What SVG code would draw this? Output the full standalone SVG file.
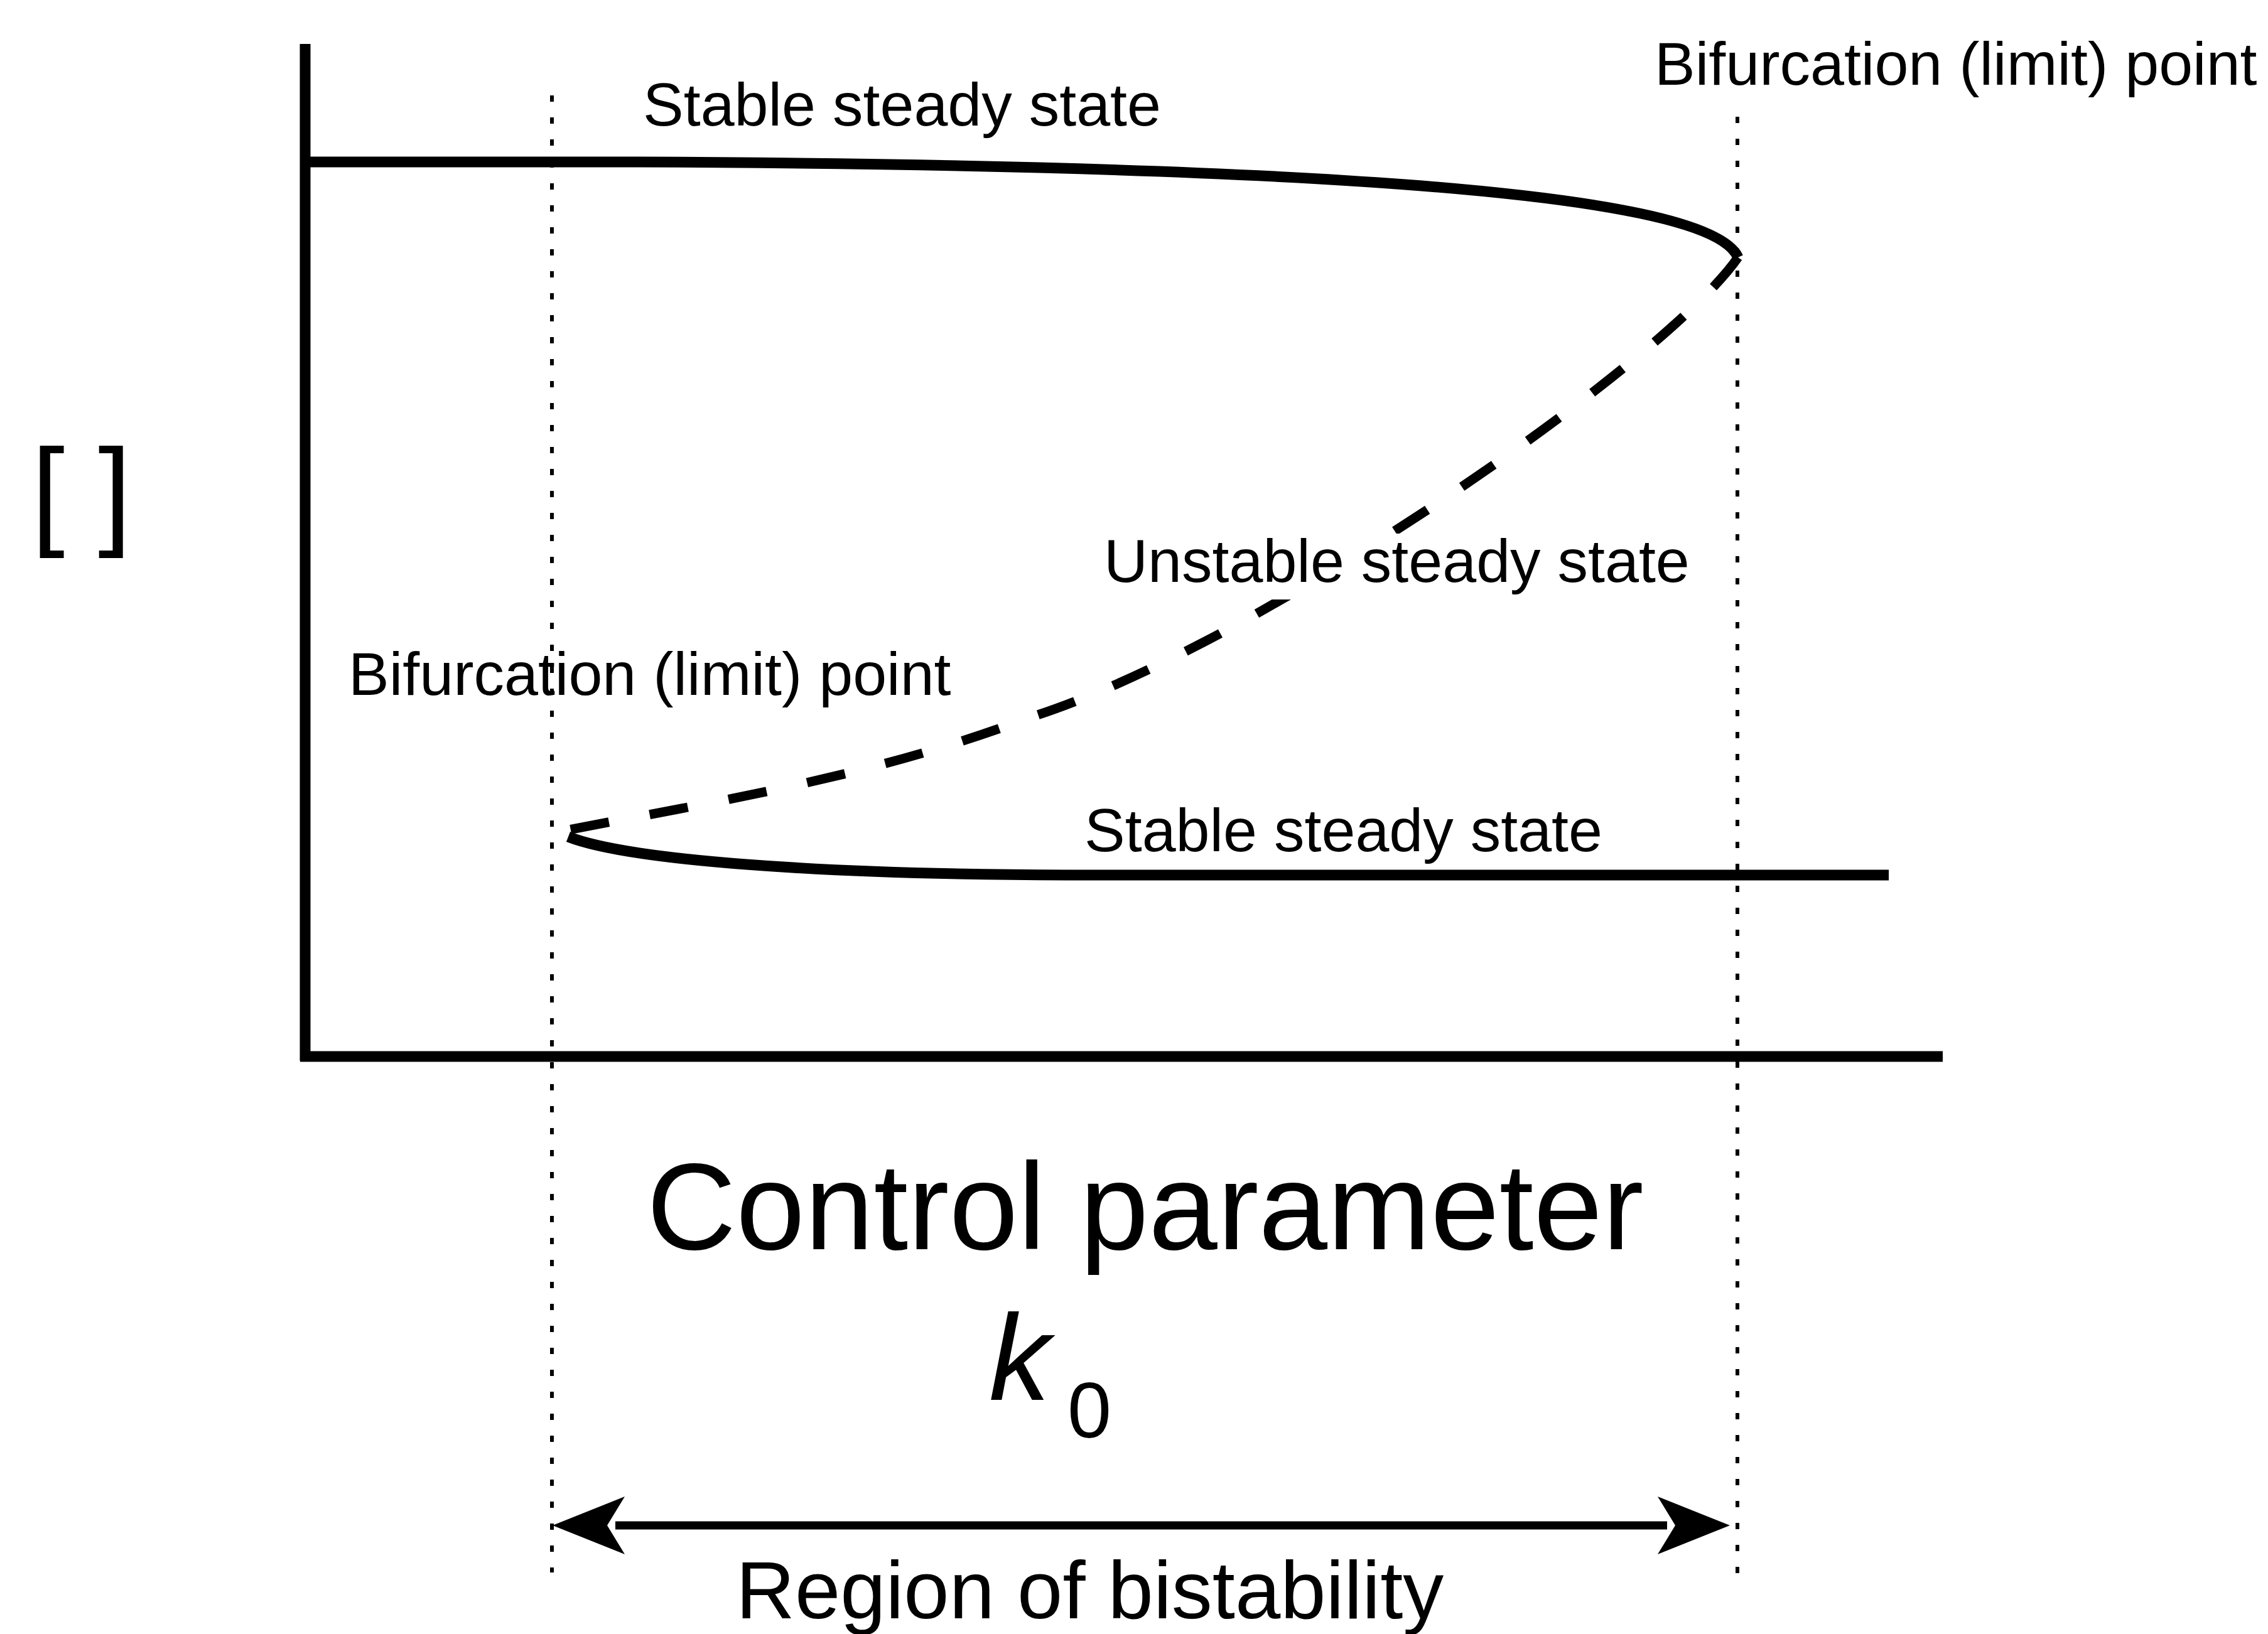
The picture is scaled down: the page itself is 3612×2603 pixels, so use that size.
<svg xmlns="http://www.w3.org/2000/svg" width="3612" height="2603" viewBox="0 0 3612 2603">
<style>
.lbl{font-family:"Liberation Sans",Arial,sans-serif;fill:#000;font-size:97px}
.big{font-family:"Liberation Sans",Arial,sans-serif;fill:#000}
.axis{stroke:#000;stroke-width:17;fill:none}
.branch{stroke:#000;stroke-width:17;fill:none}
.unstable{stroke:#000;stroke-width:15;fill:none;stroke-dasharray:62 66}
.dot{stroke:#000;stroke-width:6;fill:none;stroke-dasharray:10 25}
.arr{stroke:#000;stroke-width:13;fill:none}
</style>
<defs>
<marker id="head" markerUnits="userSpaceOnUse" viewBox="-5 -50 125 100" refX="15" refY="0" markerWidth="125" markerHeight="100" orient="auto-start-reverse">
<path d="M115,0 L0,-46 L28,0 L0,46 Z" fill="#000"/>
</marker>
</defs>
<rect x="0" y="0" width="3612" height="2603" fill="#fff"/>
<g id="axes">
<line class="axis" x1="486" y1="70" x2="486" y2="1690"/>
<line class="axis" x1="478" y1="1683" x2="3094" y2="1683"/>
</g>
<g id="limits">
<line class="dot" x1="879" y1="152" x2="879" y2="2505"/>
<line class="dot" x1="2767" y1="186" x2="2767" y2="2512"/>
</g>
<g id="connectors">
<path id="upper-stable" class="branch" d="M486,258 L1000,258 C2000,262 2720,300 2768,410"/>
<path id="unstable" class="unstable" d="M2768,410 C2650,580 2000,1030 1640,1143 C1390,1237 1150,1275 905,1322"/>
<path id="lower-stable" class="branch" d="M905,1333 C1000,1370 1300,1393 1700,1394 L3008,1394"/>
<path id="region-arrow" class="arr" d="M980,2430 L2655,2430" marker-start="url(#head)" marker-end="url(#head)"/>
</g>
<g id="labels">
<text class="lbl" x="1024" y="200">Stable steady state</text>
<text class="lbl" x="2635" y="135">Bifurcation (limit) point</text>
<rect x="1750" y="850" width="950" height="105" fill="#fff"/>
<text class="lbl" x="1758" y="927">Unstable steady state</text>
<text class="lbl" x="555" y="1107">Bifurcation (limit) point</text>
<text class="lbl" x="1727" y="1356">Stable steady state</text>
<text class="big" x="50" y="849" font-size="191">[ ]</text>
<text class="big" x="1030" y="1990" font-size="197">Control parameter</text>
<text class="big" x="1575" y="2230" font-size="195" font-style="italic">k</text>
<text class="big" x="1700" y="2290" font-size="126">0</text>
<text class="big" x="1172" y="2578" font-size="130">Region of bistability</text>
</g>
</svg>
